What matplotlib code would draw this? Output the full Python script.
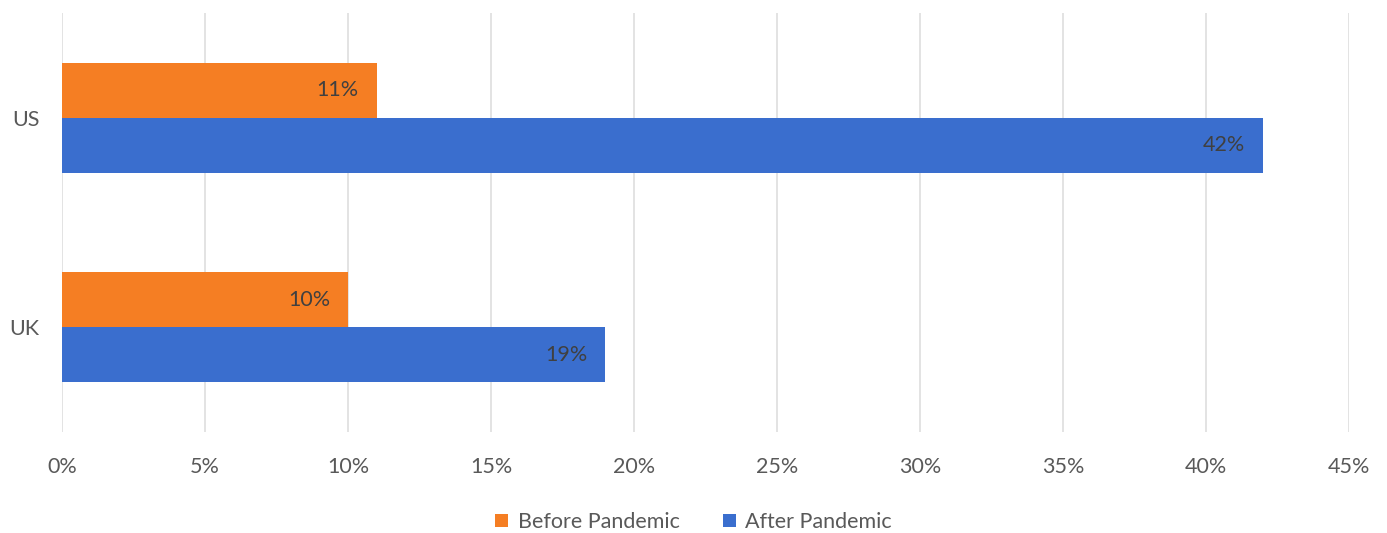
import matplotlib
matplotlib.use("Agg")
import matplotlib.pyplot as plt
from matplotlib.ticker import FuncFormatter, MultipleLocator
from matplotlib.patches import Patch
import numpy as np

# Share of respondents, before vs after the pandemic (percent)
countries = ["UK", "US"]
before_pandemic = [10, 11]
after_pandemic = [19, 42]
series_names = ["Before Pandemic", "After Pandemic"]

ORANGE = "#F57E23"
BLUE = "#3A6ECE"
TICK_GRAY = "#595959"
LABEL_DARK = "#404040"
GRID = "#DEDEDE"

plt.rcParams["font.family"] = ["Lato", "DejaVu Sans"]

fig = plt.figure(figsize=(13.87, 5.33), dpi=100)
ax = fig.add_axes([62 / 1387, 1 - 432 / 533, (1349 - 62) / 1387, (432 - 13) / 533])

y = np.arange(len(countries))
h = 0.2625
bars_before = ax.barh(y + h / 2, before_pandemic, height=h, color=ORANGE, zorder=3)
bars_after = ax.barh(y - h / 2, after_pandemic, height=h, color=BLUE, zorder=3)

for bars, vals in ((bars_before, before_pandemic), (bars_after, after_pandemic)):
    for rect, v in zip(bars, vals):
        ax.annotate(f"{v}%", xy=(v, rect.get_y() + rect.get_height() / 2),
                    xytext=(-13, 0), textcoords="offset points",
                    ha="right", va="center", fontsize=15.5, color=LABEL_DARK,
                    zorder=4)

ax.set_xlim(0, 45)
ax.set_ylim(-0.5, len(countries) - 0.5)
ax.xaxis.set_major_locator(MultipleLocator(5))
ax.xaxis.set_major_formatter(FuncFormatter(lambda v, _: f"{v:.0f}%"))
ax.set_yticks(y)
ax.set_yticklabels(countries)

ax.tick_params(axis="both", length=0, labelsize=15.5, labelcolor=TICK_GRAY)
ax.tick_params(axis="x", pad=18)
ax.tick_params(axis="y", pad=16)
ax.grid(axis="x", color=GRID, linewidth=1.2, zorder=0)
for s in ax.spines.values():
    s.set_visible(False)

handles = [Patch(facecolor=ORANGE), Patch(facecolor=BLUE)]
fig.legend(handles, series_names, loc="center", bbox_to_anchor=(0.5, 1 - 522 / 533),
           ncol=2, frameon=False, fontsize=15.5, labelcolor=TICK_GRAY,
           handlelength=0.6, handleheight=0.6, handletextpad=0.45, columnspacing=2.0)

fig.savefig("out.png", dpi=100, facecolor="white")
